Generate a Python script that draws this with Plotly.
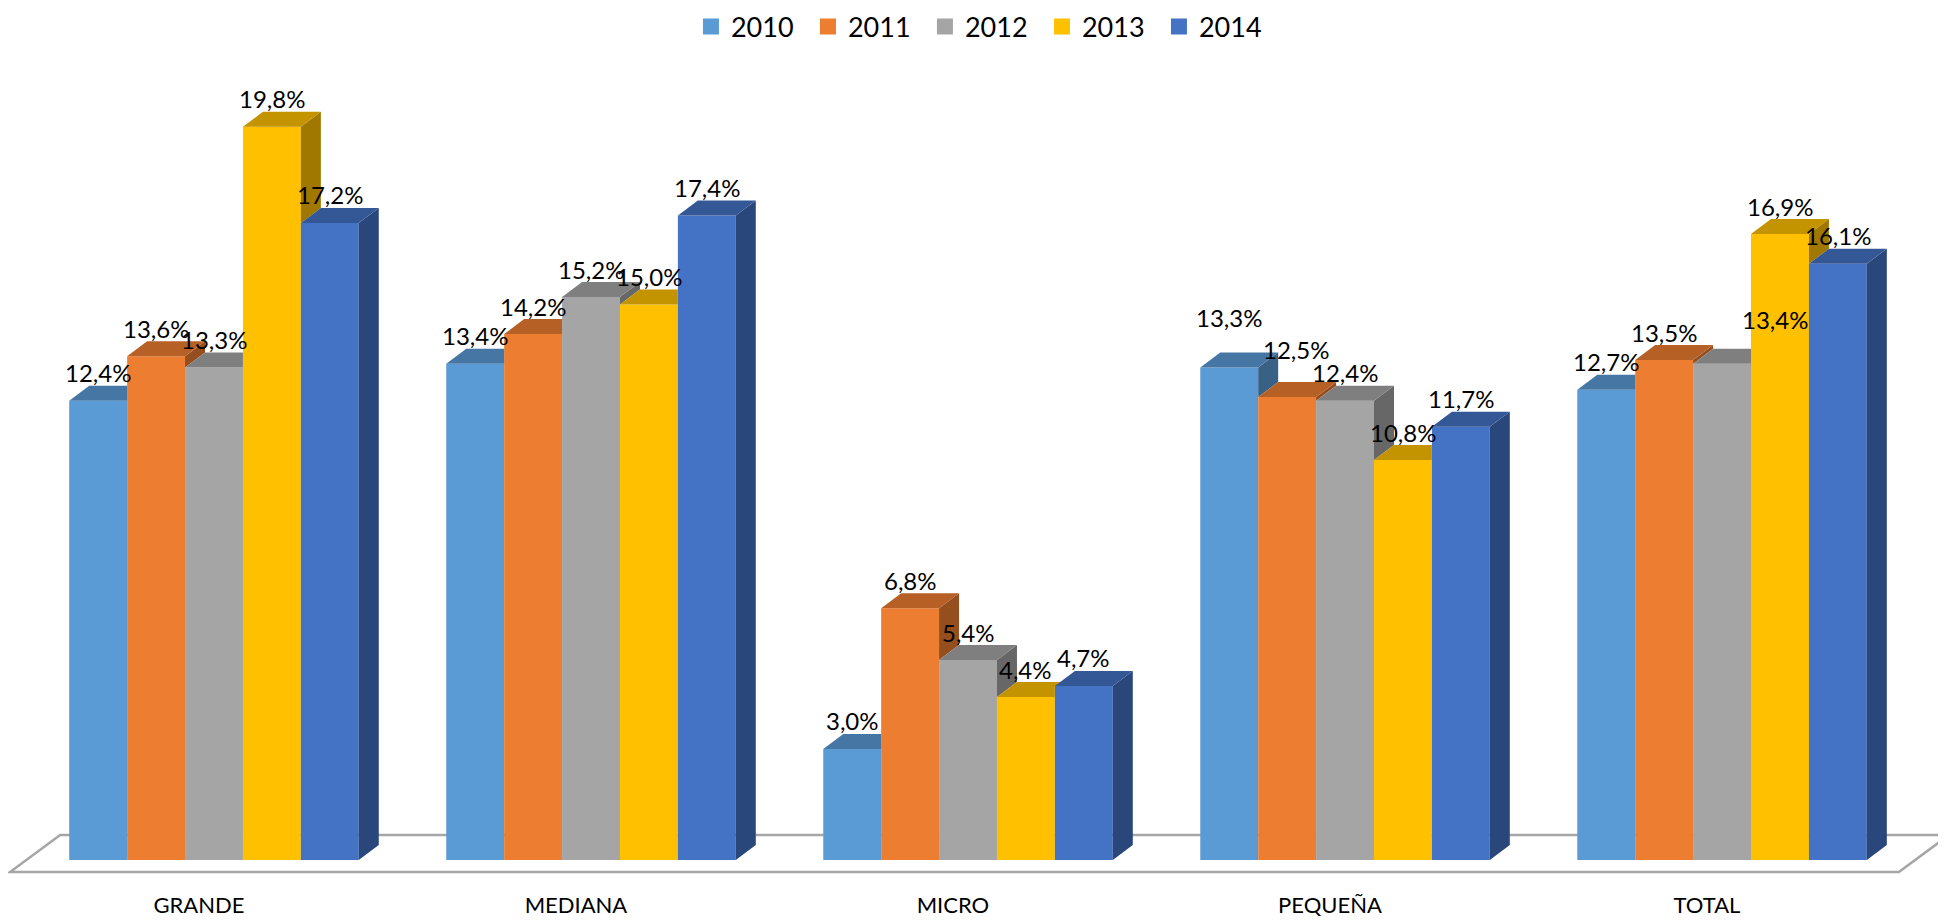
import plotly.graph_objects as go

# ---------------- data ----------------
categories = ["GRANDE", "MEDIANA", "MICRO", "PEQUEÑA", "TOTAL"]
years = ["2010", "2011", "2012", "2013", "2014"]
v2010 = [12.4, 13.4, 3.0, 13.3, 12.7]
v2011 = [13.6, 14.2, 6.8, 12.5, 13.5]
v2012 = [13.3, 15.2, 5.4, 12.4, 13.4]
v2013 = [19.8, 15.0, 4.4, 10.8, 16.9]
v2014 = [17.2, 17.4, 4.7, 11.7, 16.1]
series = [v2010, v2011, v2012, v2013, v2014]

# ---------------- style ----------------
front_colors = ["#5B9BD5", "#ED7D31", "#A5A5A5", "#FFC000", "#4472C4"]


def shade(hex_color, f):
    r, g, b = (int(hex_color[i:i + 2], 16) for i in (1, 3, 5))
    return "#%02X%02X%02X" % (int(r * f), int(g * f), int(b * f))


top_colors = [shade(c, 0.77) for c in front_colors]
side_colors = [shade(c, 0.63) for c in front_colors]

FONT = "Lato"
W, H = 1938, 914          # page has an 8px body margin
M_T, M_B = 42, 32
X_RANGE = [-0.5464, 4.594]
Y_RANGE = [-0.81, 21.87]
PX_X = W / (X_RANGE[1] - X_RANGE[0])
PX_Y = (H - M_T - M_B) / (Y_RANGE[1] - Y_RANGE[0])
BARGAP = 0.232
NS = len(series)
BW = (1 - BARGAP) / NS
DX = 20 / PX_X          # depth offset (x, data units)
DY = 15 / PX_Y          # depth offset (y, data units)
LABEL_SHIFT = 28        # px above front top

# a few data labels that the original placed off their usual spot (dx px, dy px)
label_nudge = {(3, 0): (0, 22), (3, 1): (9, 20), (4, 2): (53, 16)}

fig = go.Figure()

# front faces
for j, (yr, vals) in enumerate(zip(years, series)):
    fig.add_trace(go.Bar(
        x=list(range(len(categories))), y=vals, name=yr,
        marker=dict(color=front_colors[j], line=dict(width=0)),
        showlegend=False, hoverinfo="skip"))

# top and side faces (visible parts only)
for j in range(NS):
    tx, ty, sx, sy = [], [], [], []
    for i in range(len(categories)):
        c = i + (j - (NS - 1) / 2) * BW
        h = BW / 2
        v = series[j][i]
        nxt = series[j + 1][i] if j < NS - 1 else None
        k = 0.0 if nxt is None else min(max(nxt - v, 0.0), DY)
        tx += [c - h, c + h, c + h, c + h + DX * k / DY, c + h + DX, c - h + DX, c - h, None]
        ty += [v, v, v + k, v + k, v + DY, v + DY, v, None]
        bot = 0.0 if nxt is None else nxt
        if v > bot:
            sx += [c + h, c + h + DX, c + h + DX, c + h, c + h, None]
            sy += [bot, bot + DY, v + DY, v, bot, None]
    fig.add_trace(go.Scatter(x=sx, y=sy, mode="lines", fill="toself",
                             fillcolor=side_colors[j], line=dict(width=0),
                             showlegend=False, hoverinfo="skip"))
    fig.add_trace(go.Scatter(x=tx, y=ty, mode="lines", fill="toself",
                             fillcolor=top_colors[j], line=dict(width=0),
                             showlegend=False, hoverinfo="skip"))

# legend entries
for j, yr in enumerate(years):
    fig.add_trace(go.Scatter(x=[None], y=[None], mode="markers", name=yr,
                             marker=dict(symbol="square", size=18, color=front_colors[j])))

# data labels
for j in range(NS):
    for i in range(len(categories)):
        v = series[j][i]
        c = i + (j - (NS - 1) / 2) * BW
        ndx, ndy = label_nudge.get((i, j), (0, 0))
        fig.add_annotation(
            x=c, y=v, xref="x", yref="y",
            text=f"{v:.1f}".replace(".", ",") + "%",
            showarrow=False, xanchor="center", yanchor="middle",
            xshift=ndx, yshift=LABEL_SHIFT + ndy,
            font=dict(family=FONT, size=24, color="#000000"))

# floor (3D base plane)
fl = [(-0.541, -0.324), (4.469, -0.324), (4.602, 0.675), (-0.408, 0.675)]
path = "M " + " L ".join(f"{x},{y}" for x, y in fl) + " Z"
fig.add_shape(type="path", path=path, xref="x", yref="y", layer="below",
              fillcolor="white", line=dict(color="#A6A6A6", width=2.5))

fig.update_layout(
    width=W, height=H,
    margin=dict(l=0, r=0, t=M_T, b=M_B, autoexpand=False),
    paper_bgcolor="white", plot_bgcolor="white",
    barmode="group", bargap=BARGAP, bargroupgap=0,
    font=dict(family=FONT, color="#000000"),
    showlegend=True,
    legend=dict(orientation="h", x=0.3524, xanchor="left", y=1.0274, yanchor="middle",
                entrywidth=72, entrywidthmode="pixels",
                font=dict(family=FONT, size=27, color="#000000"),
                itemclick=False, itemdoubleclick=False, bgcolor="rgba(0,0,0,0)"),
    xaxis=dict(range=X_RANGE, showgrid=False, zeroline=False, showline=False,
               tickmode="array", tickvals=[i - 0.04 for i in range(len(categories))],
               ticktext=categories, ticks="", automargin=False,
               tickfont=dict(family=FONT, size=22, color="#000000")),
    yaxis=dict(range=Y_RANGE, visible=False, showgrid=False, zeroline=False),
)

fig.write_html("out.html")
